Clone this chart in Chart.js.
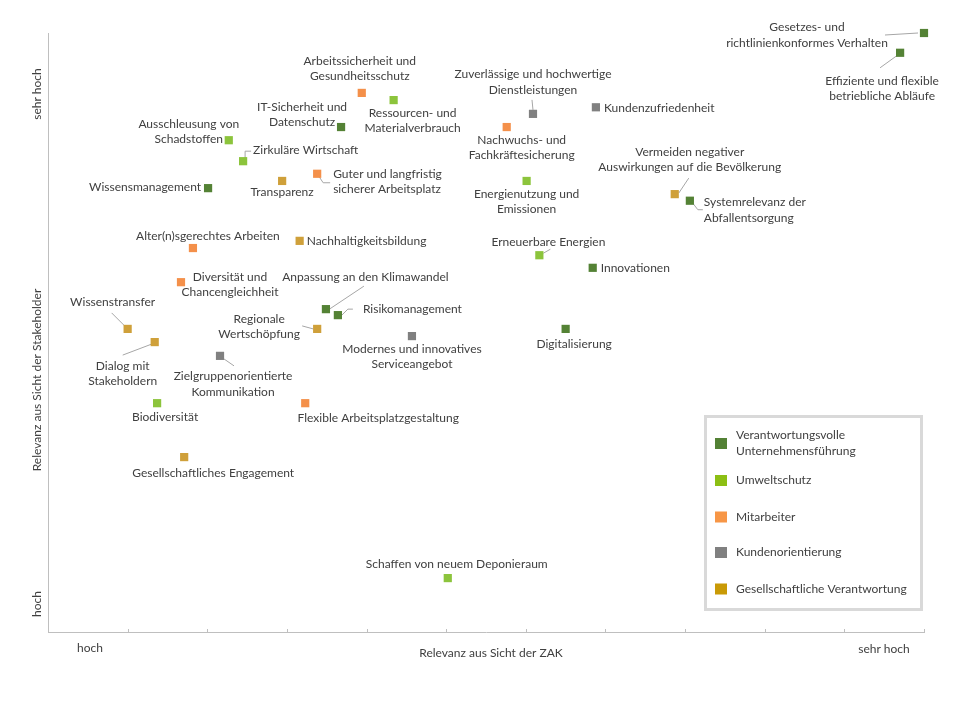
<!DOCTYPE html>
<html>
<head>
<meta charset="utf-8">
<script src="https://cdn.jsdelivr.net/npm/chart.js@4.4.0/dist/chart.umd.min.js"></script>
<style>
  html, body { margin: 0; background: #fff; }
  #wrap { width: 960px; height: 720px; }
</style>
</head>
<body>
<div id="wrap"><canvas id="matrixChart"></canvas></div>
<script>
// Wesentlichkeitsmatrix: x = Relevanz aus Sicht der ZAK, y = Relevanz aus Sicht der Stakeholder
var seriesNames = ['Verantwortungsvolle\nUnternehmensführung', 'Umweltschutz', 'Mitarbeiter', 'Kundenorientierung', 'Gesellschaftliche Verantwortung'];

var fuehrungTopics = ['Gesetzes- und\nrichtlinienkonformes Verhalten', 'Effiziente und flexible\nbetriebliche Abläufe', 'IT-Sicherheit und\nDatenschutz', 'Wissensmanagement', 'Systemrelevanz der\nAbfallentsorgung', 'Innovationen', 'Anpassung an den Klimawandel', 'Risikomanagement', 'Digitalisierung'];
var fuehrungZak = [11.0, 10.70, 3.68, 2.01, 8.06, 6.84, 3.49, 3.64, 6.50];
var fuehrungStake = [10.0, 9.67, 8.43, 7.41, 7.20, 6.08, 5.39, 5.29, 5.06];

var umweltTopics = ['Ressourcen- und\nMaterialverbrauch', 'Ausschleusung von\nSchadstoffen', 'Zirkuläre Wirtschaft', 'Energienutzung und\nEmissionen', 'Erneuerbare Energien', 'Biodiversität', 'Schaffen von neuem Deponieraum'];
var umweltZak = [4.34, 2.27, 2.45, 6.01, 6.17, 1.37, 5.02];
var umweltStake = [8.88, 8.21, 7.86, 7.53, 6.29, 3.82, 0.90];

var mitarbeiterTopics = ['Arbeitssicherheit und\nGesundheitsschutz', 'Nachwuchs- und\nFachkräftesicherung', 'Guter und langfristig\nsicherer Arbeitsplatz', 'Alter(n)sgerechtes Arbeiten', 'Diversität und\nChancengleichheit', 'Flexible Arbeitsplatzgestaltung'];
var mitarbeiterZak = [3.94, 5.76, 3.38, 1.82, 1.67, 3.23];
var mitarbeiterStake = [9.00, 8.43, 7.65, 6.41, 5.84, 3.82];

var kundenTopics = ['Zuverlässige und hochwertige\nDienstleistungen', 'Kundenzufriedenheit', 'Modernes und innovatives\nServiceangebot', 'Zielgruppenorientierte\nKommunikation'];
var kundenZak = [6.09, 6.88, 4.57, 2.16];
var kundenStake = [8.65, 8.76, 4.94, 4.61];

var gesellTopics = ['Transparenz', 'Vermeiden negativer\nAuswirkungen auf die Bevölkerung', 'Nachhaltigkeitsbildung', 'Wissenstransfer', 'Regionale\nWertschöpfung', 'Dialog mit\nStakeholdern', 'Gesellschaftliches Engagement'];
var gesellZak = [2.94, 7.87, 3.16, 1.00, 3.38, 1.34, 1.71];
var gesellStake = [7.53, 7.31, 6.53, 5.06, 5.06, 4.84, 2.92];

// label placement relative to the marker: [dx, dy, align, leader line points]
var fuehrungLabels = [
    [-117, 2, 'center', [[-6, 0], [-39, 2]]],
    [-18, 36, 'center', [[-2, 2], [-20, 15]]],
    [-39, -12.5, 'center'],
    [-7, -1, 'right'],
    [14, 9.5, 'left', [[1, 0], [8, 9], [13, 9]]],
    [8, 0, 'left'],
    [39.5, -32.5, 'center', [[2, 1], [38, -23]]],
    [25, -6, 'left', [[3, 1], [10, -6], [15, -6]]],
    [8.5, 15, 'center']
];
var umweltLabels = [
    [19, 20.5, 'center'],
    [-40, -8.5, 'center'],
    [10, -11, 'left', [[2, -3], [2, -10], [8, -10]]],
    [0, 20.5, 'center'],
    [9, -13, 'center', [[4, -2], [11, -6]]],
    [8, 14, 'center'],
    [9, -14, 'center']
];
var mitarbeiterLabels = [
    [-2, -24.5, 'center'],
    [15, 20.5, 'center'],
    [16, 8, 'left', [[2, 3], [6, 9], [13, 9]]],
    [15, -12, 'center'],
    [49, 2.5, 'center'],
    [73, 15, 'center']
];
var kundenLabels = [
    [0, -31.5, 'center', [[0, -4], [-1, -14]]],
    [8, 1, 'left'],
    [0, 20.5, 'center'],
    [13, 28.5, 'center', [[1, 1], [14, 10]]]
];
var gesellLabels = [
    [0, 11, 'center'],
    [15, -34.5, 'center', [[4, -1], [14, -16]]],
    [7, 0, 'left'],
    [-15, -27, 'center', [[-2, -2], [-16, -16]]],
    [-58, -2.5, 'center', [[-4, 0], [-15, -3]]],
    [-32, 31.5, 'center', [[-3, 2], [-32, 13]]],
    [29, 16, 'center']
];

var markerColors = ['#548235', '#8CC43C', '#F4904A', '#808080', '#CFA03A'];
var legendColors = ['#538135', '#8CBF14', '#F79646', '#808080', '#C99A06'];
var textColor = '#404040';
var fontFamily = 'Lato, "Open Sans", sans-serif';

function pts(xs, ys) {
    return xs.map(function (x, i) { return { x: x, y: ys[i] }; });
}

var allTopics = [fuehrungTopics, umweltTopics, mitarbeiterTopics, kundenTopics, gesellTopics];
var allLabels = [fuehrungLabels, umweltLabels, mitarbeiterLabels, kundenLabels, gesellLabels];
var allPoints = [
    pts(fuehrungZak, fuehrungStake),
    pts(umweltZak, umweltStake),
    pts(mitarbeiterZak, mitarbeiterStake),
    pts(kundenZak, kundenStake),
    pts(gesellZak, gesellStake)
];

function drawLines(ctx, text, x, y, align, lh) {
    var lines = text.split('\n');
    ctx.textAlign = align;
    ctx.textBaseline = 'middle';
    var y0 = y - (lines.length - 1) * lh / 2;
    lines.forEach(function (l, i) { ctx.fillText(l, x, y0 + i * lh); });
}

var matrixLabels = {
    id: 'matrixLabels',
    beforeDatasetsDraw: function (chart) {
        var ctx = chart.ctx;
        ctx.save();
        ctx.strokeStyle = '#A6A6A6';
        ctx.lineWidth = 1;
        chart.data.datasets.forEach(function (ds, d) {
            var meta = chart.getDatasetMeta(d);
            meta.data.forEach(function (el, i) {
                var lab = allLabels[d][i];
                if (!lab[3]) return;
                ctx.beginPath();
                lab[3].forEach(function (p, k) {
                    if (k === 0) ctx.moveTo(el.x + p[0], el.y + p[1]);
                    else ctx.lineTo(el.x + p[0], el.y + p[1]);
                });
                ctx.stroke();
            });
        });
        // small inside tick marks on the x axis
        var xs = chart.scales.x;
        ctx.strokeStyle = '#BFBFBF';
        xs.ticks.forEach(function (t) {
            var px = Math.round(xs.getPixelForValue(t.value)) + 0.5;
            ctx.beginPath();
            ctx.moveTo(px, xs.top - 3);
            ctx.lineTo(px, xs.top);
            ctx.stroke();
        });
        ctx.restore();
    },
    afterDatasetsDraw: function (chart) {
        var ctx = chart.ctx;
        ctx.save();
        ctx.fillStyle = textColor;
        ctx.font = '12px ' + fontFamily;
        chart.data.datasets.forEach(function (ds, d) {
            var meta = chart.getDatasetMeta(d);
            meta.data.forEach(function (el, i) {
                var lab = allLabels[d][i];
                drawLines(ctx, allTopics[d][i], el.x + lab[0], el.y + lab[1], lab[2], 15.5);
            });
        });

        // axis texts
        ctx.textAlign = 'center';
        ctx.textBaseline = 'middle';
        ctx.fillText('Relevanz aus Sicht der ZAK', 491, 653);
        ctx.fillText('hoch', 90, 648);
        ctx.fillText('sehr hoch', 884, 649);
        ctx.save();
        ctx.translate(37, 380);
        ctx.rotate(-Math.PI / 2);
        ctx.fillText('Relevanz aus Sicht der Stakeholder', 0, 0);
        ctx.restore();
        ctx.save();
        ctx.translate(37, 94);
        ctx.rotate(-Math.PI / 2);
        ctx.fillText('sehr hoch', 0, 0);
        ctx.restore();
        ctx.save();
        ctx.translate(37, 604);
        ctx.rotate(-Math.PI / 2);
        ctx.fillText('hoch', 0, 0);
        ctx.restore();

        // legend box
        ctx.fillStyle = '#fff';
        ctx.fillRect(705, 416, 217, 194);
        ctx.strokeStyle = '#D9D9D9';
        ctx.lineWidth = 3;
        ctx.strokeRect(705.5, 416.5, 216, 193);
        var rows = [443.5, 480.5, 517, 552.5, 589];
        seriesNames.forEach(function (name, i) {
            ctx.fillStyle = legendColors[i];
            ctx.fillRect(715, rows[i] - 5.5, 12, 11);
            ctx.fillStyle = textColor;
            drawLines(ctx, name, 736, rows[i], 'left', 16);
        });
        ctx.restore();
    }
};

var ctx = document.getElementById('matrixChart').getContext('2d');
var matrixChart = new Chart(ctx, {
    type: 'scatter',
    data: {
        datasets: seriesNames.map(function (name, i) {
            return {
                label: name,
                data: allPoints[i],
                backgroundColor: markerColors[i],
                borderWidth: 0,
                pointStyle: 'rect',
                pointRadius: 5.8,
                pointHoverRadius: 5.8,
                clip: false
            };
        })
    },
    options: {
        responsive: true,
        maintainAspectRatio: false,
        animation: false,
        layout: { padding: { left: 40, right: 36, top: 33, bottom: 80 } },
        plugins: {
            legend: { display: false },
            tooltip: { enabled: false }
        },
        scales: {
            x: {
                type: 'linear',
                min: 0,
                max: 11,
                ticks: { display: false, stepSize: 1 },
                grid: { display: false },
                border: { color: '#BFBFBF', width: 1 }
            },
            y: {
                type: 'linear',
                min: 0,
                max: 10,
                ticks: { display: false },
                grid: { display: false },
                border: { color: '#BFBFBF', width: 1 }
            }
        }
    },
    plugins: [matrixLabels]
});
</script>
</body>
</html>
